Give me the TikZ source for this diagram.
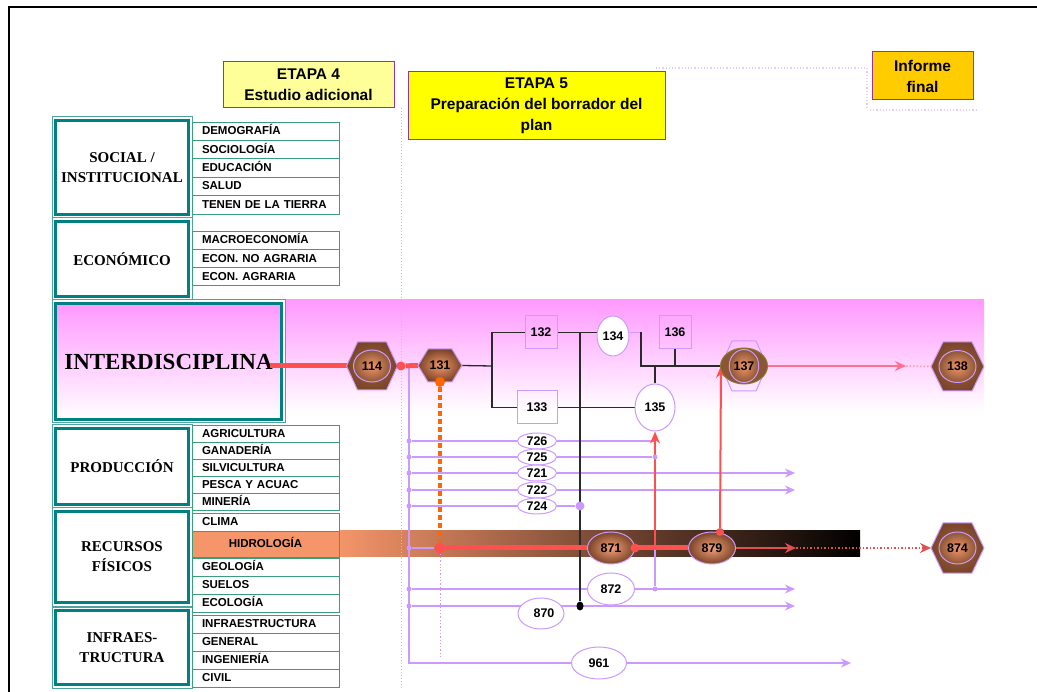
\documentclass[tikz,border=0pt]{standalone}
\usepackage{fontspec}
\setmainfont{Liberation Sans}
\newfontfamily\serifb{Liberation Serif}
\usetikzlibrary{shapes.geometric,arrows.meta}
\pgfdeclarelayer{back}
\pgfdeclarelayer{mid}
\pgfsetlayers{back,mid,main}
\definecolor{teal1}{HTML}{008080}
\definecolor{teal2}{HTML}{4FA3A0}
\definecolor{subgreen}{HTML}{3A9E78}
\definecolor{lpurp}{HTML}{CC99FF}
\definecolor{ghostp}{HTML}{E5CCFF}
\definecolor{redl}{HTML}{FF5050}
\definecolor{redd}{HTML}{E05050}
\definecolor{pinkl}{HTML}{FF7090}
\definecolor{orng}{HTML}{FF6600}
\definecolor{brownd}{HTML}{7A4528}
\definecolor{brownm}{HTML}{8B5636}
\definecolor{brownmid}{HTML}{7A4A30}
\definecolor{orl}{HTML}{F4956A}
\definecolor{pinkt}{HTML}{FF99FF}
\definecolor{yel1}{HTML}{FFFF99}
\definecolor{yel2}{HTML}{FFFF00}
\definecolor{gold}{HTML}{FFCC00}
\definecolor{bpurp}{HTML}{993399}
\definecolor{gdot}{HTML}{A8D5A8}
\definecolor{blk1}{HTML}{2A2A2A}
\definecolor{olive1}{HTML}{8A7A30}
\newcommand{\hexof}[2]{(#1.west) -- ([xshift=#2]#1.north west) -- ([xshift=-#2]#1.north east) -- (#1.east) -- ([xshift=-#2]#1.south east) -- ([xshift=#2]#1.south west) -- cycle}
\begin{document}
\begin{tikzpicture}[x=1pt,y=-1pt,
  catbox/.style={draw=teal1,line width=3.5pt,inner sep=0pt,outer sep=0pt,fill=white,align=center,font=\serifb\bfseries\fontsize{15}{20}\selectfont},
  catouter/.style={draw=teal2,line width=1pt},
  subbox/.style={draw=subgreen,line width=0.9pt,fill=white,minimum width=147pt,text width=127pt,inner xsep=10pt,inner ysep=0pt,align=left,outer sep=0pt,text height=8.6pt,text depth=1.4pt,font=\bfseries\fontsize{11.5}{13}\selectfont},
  hdr/.style={draw=bpurp,line width=1pt,align=center,inner sep=0pt,font=\bfseries\fontsize{15.5}{21}\selectfont},
  num/.style={font=\bfseries\fontsize{12.5}{14}\selectfont,inner sep=0pt},
  pell/.style={ellipse,draw=lpurp,line width=1pt,fill=white,num},
  pbox/.style={rectangle,draw=lpurp,line width=1pt,num},
  hexbox/.style={rectangle,draw=none,inner sep=0pt,outer sep=0pt},
  hexshade/.style={inner color=brownm!80!orl,outer color=brownd,draw=lpurp,line width=1pt},
  bigin/.style={ellipse,draw=lpurp,line width=1pt,inner color=orl,outer color=brownm,minimum width=37pt,minimum height=32pt,num},
  brell/.style={ellipse,draw=lpurp,line width=1pt,inner color=orl!90!white,outer color=brownd,minimum width=47pt,minimum height=32pt,num},
  blk/.style={draw=blk1,line width=1.3pt},
  purp/.style={draw=lpurp,line width=1.3pt},
  parr/.style={purp,-{Stealth[length=10pt,width=9pt]}},
  redthick/.style={draw=redl,line width=5pt},
  redarr/.style={draw=redl,line width=2pt,-{Stealth[length=12pt,width=10pt]}},
  dotp/.style={circle,fill=lpurp,inner sep=0pt,minimum size=5pt},
  reddot/.style={circle,fill=redl,inner sep=0pt,minimum size=9pt},
  ghost/.style={draw=ghostp,dotted,line width=1.2pt}
]
\useasboundingbox (0,0) rectangle (1037,692);

% ---------- background ----------
\begin{pgfonlayer}{back}
\shade[top color=pinkt,bottom color=white] (285,300) rectangle (984,412);
\shade[left color=orl,middle color=brownmid,right color=black] (339,531) rectangle (860,557);
\draw[gdot,dotted,line width=1pt] (401,108) -- (401,688);
\end{pgfonlayer}

\draw[line width=1.2pt] (9,692) -- (9,7) -- (1037,7);

% ---------- headers ----------
\coordinate (g1) at (656,68);
\coordinate (g2) at (867,68);
\coordinate (g3) at (867,108);
\coordinate (g4) at (870,110);
\coordinate (g5) at (977,110);
\draw[ghost] (g1) -- (g2) -- (g3);
\draw[ghost] (g4) -- (g5);
\node[hdr,fill=yel1,minimum width=171pt,minimum height=46pt] (e4) at (308.5,85) {ETAPA 4\\Estudio adicional};
\node[hdr,fill=yel2,minimum width=257pt,minimum height=68pt] (e5) at (536.5,106) {ETAPA 5\\Preparación del borrador del\\plan};
\node[hdr,fill=gold,minimum width=101pt,minimum height=48pt] (ifin) at (922.5,76) {Informe\\final};

% ---------- categories ----------
\node[catbox,minimum width=133pt,minimum height=94pt] (soc) at (122,167.5) {SOCIAL /\\INSTITUCIONAL};
\node[catbox,minimum width=133pt,minimum height=75pt] (eco) at (122,259) {ECONÓMICO};
\node[catbox,minimum width=226pt,minimum height=116pt,top color=pinkt,bottom color=white,font=\serifb\bfseries\fontsize{23}{26}\selectfont] (int) at (168.5,361.5) {INTERDISCIPLINA};
\node[catbox,minimum width=133pt,minimum height=76pt] (pro) at (122,466.5) {PRODUCCIÓN};
\node[catbox,minimum width=133pt,minimum height=91pt] (rec) at (122,557) {RECURSOS\\FÍSICOS};
\node[catbox,minimum width=133pt,minimum height=74pt] (ifr) at (122,647.5) {INFRAES-\\TRUCTURA};
\foreach \n in {soc,eco,int,pro,rec,ifr}
  \draw[catouter] ([shift={(-3.5,-3.5)}]\n.north west) rectangle ([shift={(3.5,3.5)}]\n.south east);

% ---------- sub items ----------
\foreach \y/\t [count=\i] in {131.2/DEMOGRAFÍA,149.6/SOCIOLOGÍA,168/EDUCACIÓN,186.4/SALUD,204.8/TENEN DE LA TIERRA}
  \node[subbox,minimum height=18.4pt] (sa\i) at (265.5,\y) {\t};
\foreach \y/\t [count=\i] in {240.2/MACROECONOMÍA,258.5/ECON. NO AGRARIA,276.8/ECON. AGRARIA}
  \node[subbox,minimum height=18.3pt] (ec\i) at (265.5,\y) {\t};
\foreach \y/\t [count=\i] in {433.5/AGRICULTURA,450.5/GANADERÍA,467.5/SILVICULTURA,484.5/PESCA Y ACUAC,501.5/MINERÍA}
  \node[subbox,minimum height=17pt] (pr\i) at (265.5,\y) {\t};
\node[subbox,minimum height=18pt] (rf1) at (265.5,522) {CLIMA};
\node[subbox,minimum height=26pt,fill=orl,align=center] (rf2) at (265.5,544) {HIDROLOGÍA};
\node[subbox,minimum height=18pt] (rf3) at (265.5,567) {GEOLOGÍA};
\node[subbox,minimum height=18pt] (rf4) at (265.5,585) {SUELOS};
\node[subbox,minimum height=18pt] (rf5) at (265.5,603) {ECOLOGÍA};
\foreach \y/\t [count=\i] in {624/INFRAESTRUCTURA,642/GENERAL,660/INGENIERÍA,678/CIVIL}
  \node[subbox,minimum height=18pt] (in\i) at (265.5,\y) {\t};

% ---------- hexagons ----------
\node[hexbox,minimum width=51pt,minimum height=48pt] (h114) at (372,366) {};
\coordinate (intout) at (270,366);
\draw[redl,line width=5pt] (intout) -- (h114.west);
\shadedraw[hexshade] \hexof{h114}{11pt};
\node[bigin] (e114) at (h114) {114};

\node[hexbox,minimum width=44pt,minimum height=33pt] (h131) at (440,365.5) {};
\shadedraw[inner color=orl,outer color=brownd,draw=lpurp,line width=1pt] \hexof{h131}{10pt};
\node[num] (t131) at (h131) {131};

\node[hexbox,minimum width=46pt,minimum height=50pt] (h137) at (744,366) {};
\draw[lpurp,line width=1pt] \hexof{h137}{11pt};
\node[ellipse,fill=brownm,draw=olive1,line width=1pt,minimum width=47pt,minimum height=36pt,inner sep=0pt] (b137) at (h137) {};
\node[ellipse,draw=lpurp,line width=1pt,inner color=orl,outer color=brownm,minimum width=29pt,minimum height=33pt,num] (e137) at (h137) {137};

\node[hexbox,minimum width=53pt,minimum height=49pt] (h138) at (957.5,366.5) {};
\shadedraw[hexshade] \hexof{h138}{12pt};
\node[bigin] (e138) at (h138) {138};

\node[hexbox,minimum width=53pt,minimum height=50pt] (h874) at (957.5,548) {};
\shadedraw[hexshade] \hexof{h874}{12pt};
\node[bigin] (e874) at (h874) {874};

\node[brell] (n871) at (611,548) {871};
\node[brell] (n879) at (712,548) {879};

% ---------- labelled boxes / ellipses ----------
\node[pbox,minimum width=32pt,minimum height=33pt] (n132) at (541,332.5) {132};
\node[pbox,minimum width=40pt,minimum height=33pt] (n133) at (537,407.5) {133};
\node[pbox,minimum width=32pt,minimum height=33pt] (n136) at (675,332.5) {136};
\node[pell,minimum width=32pt,minimum height=40pt] (n134) at (613,336) {134};
\node[pell,minimum width=40pt,minimum height=47pt] (n135) at (655,407.5) {135};
\foreach \y/\t in {441/726,457/725,473/721,490/722,506/724}
  \node[pell,minimum width=39pt,minimum height=16pt] (n\t) at (537,\y) {\t};
\node[pell,minimum width=47pt,minimum height=32pt] (n872) at (611,589) {872};
\node[pell,minimum width=46pt,minimum height=31pt] (n870) at (541,613.5) {\hspace*{6pt}870};
\node[pell,minimum width=55pt,minimum height=32pt] (n961) at (599,663) {961};

% ---------- dots and coordinates ----------
\foreach \y [count=\i] in {441,457,473,490,506,548,589,606}
  \node[dotp] (p\i) at (409,\y) {};
\node[dotp] (pd725) at (655,457) {};
\node[dotp] (pd872) at (655,589) {};
\node[dotp,minimum size=9pt] (pd724) at (580,506) {};
\node[ellipse,fill=black,inner sep=0pt,minimum width=7pt,minimum height=9pt] (bd) at (580,606) {};
\node[reddot] (d401) at (401,366) {};
\node[reddot,minimum size=11pt] (d440) at (440,548) {};
\node[reddot] (d871) at (n871.east) {};
\node[reddot,minimum size=8pt] (d879) at (720,532) {};
\node[circle,fill=orng,inner sep=0pt,minimum size=10pt] (o131) at (440,382) {};
\coordinate (pv0) at (409,368);
\coordinate (pv1) at (409,663);
\coordinate (a961) at (851,663);
\coordinate (q726) at (655,441);
\coordinate (a721) at (795,473);
\coordinate (a722) at (795,490);
\coordinate (a872) at (795,589);
\coordinate (a870) at (795,606);
\coordinate (c440b) at (440,657);
\coordinate (j1) at (492,366);
\coordinate (j2) at (580,332.5);
\coordinate (j3) at (641,332.5);
\coordinate (c655) at (655,548);
\coordinate (c796) at (796,548);
\coordinate (c906) at (906,366);

% ---------- connectors ----------
\begin{pgfonlayer}{mid}
\draw[purp] (pv0) -- (pv1) -- (n961.west);
\draw[parr] (n961.east) -- (a961);
\draw[purp] (p1) -- (n726.west);
\draw[purp] (n726.east) -- (q726);
\draw[purp] (p2) -- (n725.west);
\draw[purp] (n725.east) -- (pd725);
\draw[purp] (p3) -- (n721.west);
\draw[parr] (n721.east) -- (a721);
\draw[purp] (p4) -- (n722.west);
\draw[parr] (n722.east) -- (a722);
\draw[purp] (p5) -- (n724.west);
\draw[purp] (n724.east) -- (pd724);
\draw[purp] (p6) -- (d440);
\draw[purp] (p7) -- (n872.west);
\draw[parr] (n872.east) -- (a872);
\draw[purp] (pd725) -- (pd872);
\draw[parr] (p8) -- (a870);
\draw[purp,dotted,line width=0.8pt] (d440) -- (c440b);
\draw[purp] (n134.east |- j3) -- (j3);
\draw[blk] (h131.east) -- (j1);
\draw[blk] (j1) |- (n132.west);
\draw[blk] (j1) |- (n133.west);
\draw[blk] (n132.east) -- (n132.east -| n134.west);
\draw[blk] (j2) -- (bd);
\draw[blk] (j3) |- (h137.west);
\draw[blk] (n136.south) -- (n136.south |- h137.west);
\draw[blk] (n135.north) -- (n135.north |- h137.west);
\draw[blk] (n133.east) -- (n133.east -| n135.west);
\draw[redthick] (h114.east) -- (d401) -- (h131.west);
\draw[orng,line width=4pt,dash pattern=on 5pt off 3pt] (o131) -- (d440);
\draw[redthick] (d440) -- (n871.west);
\draw[redthick] (n871.east) -- (n879.west);
\draw[redarr] (c655) -- (n135.south);
\draw[redarr] (d879) -- (h137.west);
\draw[redd,line width=1.5pt,-{Stealth[length=11pt,width=10pt]}] (n879.east) -- (c796);
\draw[redd,dotted,line width=1.5pt,-{Stealth[length=11pt,width=10pt]}] (c796) -- (h874.west);
\draw[pinkl,line width=1.5pt,-{Stealth[length=11pt,width=10pt]}] (h137.east) -- (c906);
\draw[pinkl!70!white,dotted,line width=1.5pt] (c906) -- (h138.west);
\end{pgfonlayer}
\end{tikzpicture}
\end{document}
